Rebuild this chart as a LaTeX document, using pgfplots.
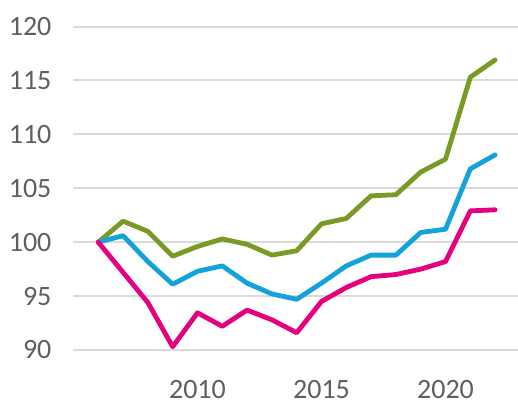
\documentclass[border=0pt]{standalone}
\usepackage{pgfplots}
\pgfplotsset{compat=1.18}
\usepackage{fontspec}
\setmainfont{Carlito}
\definecolor{cgreen}{RGB}{122,154,38}
\definecolor{cblue}{RGB}{20,162,218}
\definecolor{cmag}{RGB}{228,0,126}
\definecolor{ctext}{RGB}{95,95,95}
\definecolor{cgrid}{RGB}{218,218,218}
\begin{document}
\begin{tikzpicture}[x=1pt,y=1pt]
\begin{axis}[
  at={(0,0)}, anchor=south west,
  scale only axis,
  width=333.4pt, height=266.9pt,
  xmin=2005, xmax=2022.92,
  ymin=88, ymax=121,
  axis x line*=bottom,
  axis y line*=left,
  axis line style={white, line width=0.1pt},
  ytick={90,95,...,120},
  xtick={2010,2015,2020},
  major tick length=0pt,
  /pgf/number format/assume math mode=true,
  /pgf/number format/1000 sep={},
  ticklabel style={font=\fontsize{21}{25}\selectfont, text=ctext},
  yticklabel style={anchor=east, xshift=-13pt},
  xticklabel style={anchor=north, yshift=-3pt},
]
\pgfplotsinvokeforeach{90,95,...,120}{
  \draw[cgrid, line width=1.5pt] (axis cs:2005,#1) -- (axis cs:2022.92,#1);
}
\addplot[cgreen, line width=3.6pt, line join=round, line cap=round] coordinates {
(2006,100.0) (2007,101.95) (2008,101.0) (2009,98.7) (2010,99.6) (2011,100.3) (2012,99.8) (2013,98.8)
(2014,99.2) (2015,101.7) (2016,102.2) (2017,104.3) (2018,104.4) (2019,106.5) (2020,107.7) (2021,115.3) (2022,116.9)};
\addplot[cblue, line width=3.6pt, line join=round, line cap=round] coordinates {
(2006,100.0) (2007,100.6) (2008,98.2) (2009,96.1) (2010,97.3) (2011,97.8) (2012,96.2) (2013,95.2)
(2014,94.7) (2015,96.2) (2016,97.8) (2017,98.8) (2018,98.8) (2019,100.9) (2020,101.2) (2021,106.8) (2022,108.1)};
\addplot[cmag, line width=3.6pt, line join=round, line cap=round] coordinates {
(2006,100.0) (2007,97.2) (2008,94.4) (2009,90.3) (2010,93.45) (2011,92.2) (2012,93.7) (2013,92.8)
(2014,91.6) (2015,94.5) (2016,95.8) (2017,96.8) (2018,97.0) (2019,97.5) (2020,98.2) (2021,102.9) (2022,103.0)};
\end{axis}
\path (-55.1pt,-25.8pt) rectangle (333.4pt,278.7pt);
\end{tikzpicture}
\end{document}
